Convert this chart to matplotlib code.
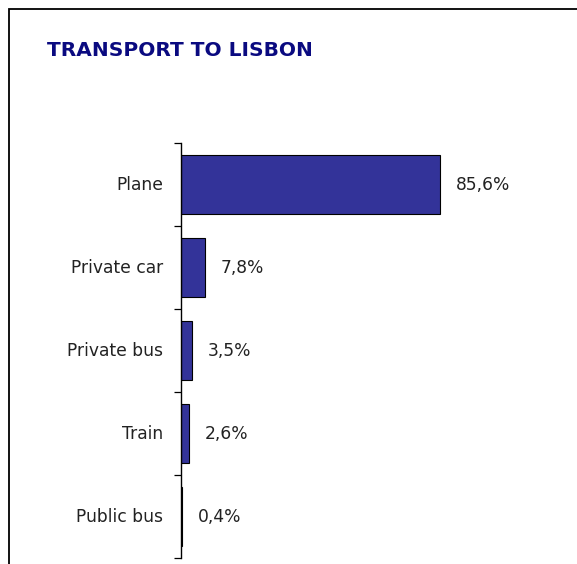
import matplotlib
matplotlib.use("Agg")
import matplotlib.pyplot as plt
from matplotlib.patches import Rectangle

categorias = ["Plane", "Private car", "Private bus", "Train", "Public bus"]
valores = [85.6, 7.8, 3.5, 2.6, 0.4]
rotulos = ["85,6%", "7,8%", "3,5%", "2,6%", "0,4%"]

W, H = 577, 564
fig = plt.figure(figsize=(W / 100, H / 100), dpi=100)

# eixo: x de 181 px, y de 143 a 558 px (a partir do topo)
ax = fig.add_axes([181 / W, (H - 558) / H, 393 / W, 415 / H])
pos = list(range(len(categorias)))
ax.barh(pos, valores, height=0.71, color="#333399", edgecolor="black", linewidth=0.8)
ax.set_ylim(len(categorias) - 0.5, -0.5)
ax.set_xlim(0, 130)

for p, v, r in zip(pos, valores, rotulos):
    ax.text(v + 5.3, p, r, va="center", ha="left", fontsize=12.3, color="#222222")

# ticks nas fronteiras entre categorias
ax.set_yticks([p - 0.5 for p in pos] + [len(categorias) - 0.5])
ax.set_yticklabels([])
ax.tick_params(axis="y", direction="out", length=5, width=0.9, color="black")
for p, c in zip(pos, categorias):
    ax.text(-6, p, c, va="center", ha="right", fontsize=12.3, color="#222222")

ax.set_xticks([])
for s in ["top", "right", "bottom"]:
    ax.spines[s].set_visible(False)
ax.spines["left"].set_linewidth(1.0)

fig.text(47 / W, 1 - 50 / H, "TRANSPORT TO LISBON", fontsize=14.5, fontweight="bold",
         color="#0a0a80", va="center", ha="left")

# moldura (cortada a direita e embaixo)
fig.add_artist(Rectangle((9 / W, -0.5), 2, 1.5 - 9 / H, transform=fig.transFigure,
                         fill=False, edgecolor="black", linewidth=1.3))

fig.savefig("out.png", dpi=100)
